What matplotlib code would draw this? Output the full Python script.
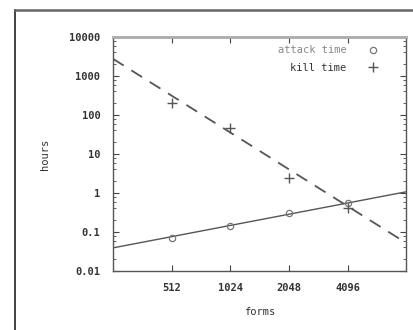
import matplotlib
matplotlib.use('Agg')
import matplotlib.pyplot as plt
from matplotlib.lines import Line2D
from matplotlib.ticker import FixedLocator, LogLocator, NullFormatter

forms = [512, 1024, 2048, 4096]
attack_time = [0.071, 0.143, 0.31, 0.56]
kill_time = [205, 47, 2.4, 0.42]

fit_x = [256, 8192]
attack_fit = [0.039, 1.07]
kill_fit = [2750, 0.052]

y_ticks = [0.01, 0.1, 1, 10, 100, 1000, 10000]
y_labels = ['0.01', '0.1', '1', '10', '100', '1000', '10000']

plt.rcParams['font.family'] = 'DejaVu Sans Mono'
plt.rcParams['font.size'] = 7.5

fig = plt.figure(figsize=(4.13, 3.30), dpi=100)
ax = fig.add_axes([0.2736, 0.179, 0.71, 0.709])

col = '#555555'
ax.plot(fit_x, attack_fit, color=col, lw=1.0)
ax.plot(fit_x, kill_fit, color=col, lw=1.3, dashes=(7, 5))
ax.plot(forms, attack_time, ls='none', marker='o', ms=4.5, mfc='none', mec='#777777', mew=0.9)
ax.plot(forms, kill_time, ls='none', marker='+', ms=6.5, mec='#555555', mew=1.0)

ax.set_xscale('log', base=2)
ax.set_yscale('log')
ax.set_xlim(256, 8192)
ax.set_ylim(0.01, 10000)

ax.set_xticks(forms)
ax.set_xticklabels([str(f) for f in forms])
ax.xaxis.set_minor_locator(FixedLocator([]))
ax.set_yticks(y_ticks)
ax.set_yticklabels(y_labels)
ax.yaxis.set_minor_locator(LogLocator(base=10, subs=[2, 4, 6, 8]))
ax.yaxis.set_minor_formatter(NullFormatter())

ax.tick_params(which='both', direction='in', top=True, right=True, colors='#444444')
ax.tick_params(which='major', length=4, width=0.8, pad=9)
ax.tick_params(which='minor', length=2, width=0.6)
for lbl in ax.get_xticklabels() + ax.get_yticklabels():
    lbl.set_color('#333333')
    lbl.set_fontweight('bold')

for s in ax.spines.values():
    s.set_color('#555555')
    s.set_linewidth(1.0)
ax.spines['top'].set_color('#aaaaaa')
ax.spines['top'].set_linewidth(2.0)

ax.set_ylabel('hours', color='#333333', labelpad=14)
ax.set_xlabel('forms', color='#333333', labelpad=10)

# gnuplot style key: text first, sample on its right
handles = [Line2D([], [], ls='none', marker='o', ms=4.5, mfc='none', mec='#777777', mew=0.9),
           Line2D([], [], ls='none', marker='+', ms=6.5, mec='#555555', mew=1.0)]
leg = ax.legend(handles, ['attack time', 'kill time'], loc='upper right',
                bbox_to_anchor=(0.942, 1.0), frameon=False,
                markerfirst=False, handlelength=1.5, handletextpad=1.8,
                labelspacing=0.75, borderaxespad=0.4)
for t, c in zip(leg.get_texts(), ['#888888', '#333333']):
    t.set_color(c)
    t.set_ha('right')

# outer frame lines
fig.add_artist(Line2D([15 / 413, 15 / 413], [0, 1 - 10 / 330], transform=fig.transFigure,
                      color='#222222', lw=1.2))
fig.add_artist(Line2D([15 / 413, 1], [1 - 10 / 330, 1 - 10 / 330], transform=fig.transFigure,
                      color='#666666', lw=1.8))

fig.savefig('out.png', dpi=100)
